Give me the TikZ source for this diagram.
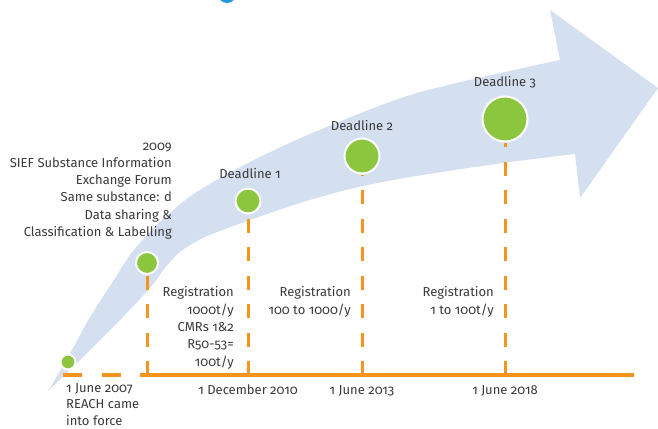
\documentclass[tikz,border=0pt]{standalone}
\usepackage{fontspec}
\setmainfont{Fira Sans}[Numbers=OldStyle]
\definecolor{arrowblue}{HTML}{D4DFF0}
\definecolor{tlorange}{HTML}{F7941D}
\definecolor{dotgreen}{HTML}{8CC63F}
\definecolor{txtgray}{HTML}{3A3A3A}
\definecolor{topblue}{HTML}{2196D9}
\begin{document}
\begin{tikzpicture}[x=1pt,y=-1pt,
  dot/.style={circle,fill=dotgreen,draw=white,line width=2pt,inner sep=0pt,minimum size=#1},
  vdash/.style={draw=tlorange,line width=3pt,dash pattern=on 14pt off 14.5pt},
  hline/.style={draw=tlorange,line width=4pt},
  lbl/.style={font=\fontsize{13}{17.3}\selectfont,text=txtgray,inner sep=0pt}]
\useasboundingbox (0,0) rectangle (658,428);
\begin{scope}
\clip (0,0) rectangle (658,428);
\fill[topblue] (227,-6) circle (9);
\end{scope}
% big curved arrow
\fill[arrowblue] plot[smooth] coordinates {(48,391) (53,383) (72,350) (90,317) (112,283) (133,251) (160,222) (195,193) (250,162) (317,131) (417,93) (560,60)}
  -- (550,10) -- (658,88) -- (580,198) -- (575,154)
  -- plot[smooth] coordinates {(575,154) (503,163) (410,177) (350,189) (300,203) (250,220) (205,237) (180,252) (165,268) (150,288) (123,317) (90,350) (73,367) (48,391)} -- cycle;
% coordinates
\coordinate (t0) at (63,375);
\coordinate (tm) at (140,375);
\coordinate (tend) at (634,375);
\coordinate (b1) at (147,375);
\coordinate (b2) at (248,375);
\coordinate (b3) at (362,375);
\coordinate (b4) at (505,375);
% circles
\node[dot=15pt] (c0) at (68,362) {};
\node[dot=22pt] (c1) at (147,263) {};
\node[dot=25pt] (c2) at (248,201) {};
\node[dot=35pt] (c3) at (362,156) {};
\node[dot=45pt] (c4) at (505,119) {};
% timeline
\draw[hline,dash pattern=on 19pt off 20pt] (t0) -- (tm);
\draw[hline] (tm) -- (tend);
\draw[vdash] (b1) -- (c1.south);
\draw[vdash] (b2) -- (c2.south);
\draw[vdash] (b3) -- (c3.south);
\draw[vdash] (b4) -- (c4.south);
% labels (anchor = baseline of last line)
\node[lbl,align=right,anchor=base east] (sief) at (172,236.5) {2009\\SIEF Substance Information\\Exchange Forum\\Same substance: d\\Data sharing \&\\Classification \& Labelling};
\node[lbl,anchor=base] (dl1) at (250,178) {Deadline 1};
\node[lbl,anchor=base] (dl2) at (362,130) {Deadline 2};
\node[lbl,anchor=base] (dl3) at (505,86) {Deadline 3};
\node[lbl,align=right,anchor=base east] (reg1) at (234,366) {Registration\\1000t/y\\CMRs 1\&2\\R50-53=\\100t/y};
\node[lbl,align=right,anchor=base east] (reg2) at (351,314) {Registration\\100 to 1000/y};
\node[lbl,align=right,anchor=base east] (reg3) at (494,314) {Registration\\1 to 100t/y};
\node[lbl,align=left,anchor=base west,font=\fontsize{13}{16.3}\selectfont] (d0) at (66,425) {1 June 2007\\REACH came\\into force};
\node[lbl,anchor=base] (d1) at (248,394) {1 December 2010};
\node[lbl,anchor=base] (d2) at (362,394) {1 June 2013};
\node[lbl,anchor=base] (d3) at (505,394) {1 June 2018};
\end{tikzpicture}
\end{document}
